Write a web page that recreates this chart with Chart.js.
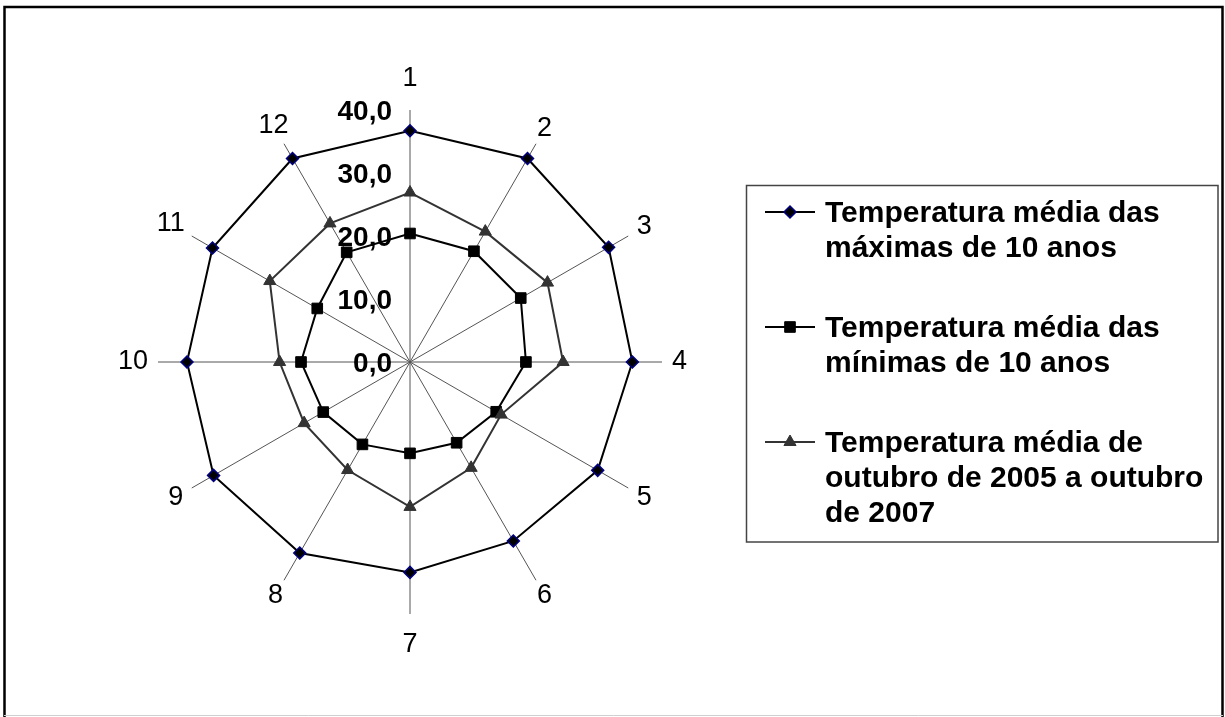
<!DOCTYPE html>
<html>
<head>
<meta charset="utf-8">
<script src="https://cdn.jsdelivr.net/npm/chart.js@4.4.0/dist/chart.umd.min.js"></script>
<style>
html,body{margin:0;padding:0;background:#fff;}
#wrap{position:relative;width:1225px;height:717px;}
</style>
</head>
<body>
<div id="wrap"><canvas id="c"></canvas></div>
<script>
// ---- data ----
const categories = ['1','2','3','4','5','6','7','8','9','10','11','12'];
const maxTemps = [36.7, 37.3, 36.4, 35.3, 34.4, 32.8, 33.4, 35.0, 36.0, 35.4, 36.2, 37.3];
const minTemps = [20.4, 20.3, 20.3, 18.4, 15.8, 14.8, 14.5, 15.1, 15.9, 17.3, 17.0, 20.1];
const avgTemps = [26.9, 23.9, 25.2, 24.3, 16.7, 19.4, 23.0, 19.8, 19.4, 20.7, 25.7, 25.4];
const seriesNames = [
  'Temperatura média das máximas de 10 anos',
  'Temperatura média das mínimas de 10 anos',
  'Temperatura média de outubro de 2005 a outubro de 2007'
];
const tickValues = [0, 10, 20, 30, 40];
const tickLabels = ['0,0', '10,0', '20,0', '30,0', '40,0'];

const FONT = '"Liberation Sans", Arial, sans-serif';

function wrapText(ctx, text, maxW) {
  const words = text.split(' ');
  const lines = [];
  let cur = '';
  words.forEach(w => {
    const t = cur ? cur + ' ' + w : w;
    if (ctx.measureText(t).width > maxW && cur) { lines.push(cur); cur = w; }
    else cur = t;
  });
  if (cur) lines.push(cur);
  return lines;
}

const decor = {
  id: 'decor',
  beforeDraw(chart) {
    const ctx = chart.ctx;
    ctx.save();
    ctx.fillStyle = '#fff';
    ctx.fillRect(0, 0, chart.width, chart.height);
    ctx.strokeStyle = '#000';
    ctx.lineWidth = 2.5;
    ctx.beginPath();
    ctx.moveTo(4.5, 717); ctx.lineTo(4.5, 7); ctx.lineTo(1222.5, 7); ctx.lineTo(1222.5, 717);
    ctx.stroke();
    ctx.strokeStyle = '#cfcfcf';
    ctx.lineWidth = 1;
    ctx.beginPath(); ctx.moveTo(4, 715.5); ctx.lineTo(1223, 715.5); ctx.stroke();
    ctx.restore();
  },
  beforeDatasetsDraw(chart) {
    const r = chart.scales.r;
    const ctx = chart.ctx;
    ctx.save();
    ctx.fillStyle = '#000';
    ctx.font = 'bold 28px ' + FONT;
    ctx.textAlign = 'right';
    ctx.textBaseline = 'middle';
    tickValues.forEach((v, i) => {
      const d = r.getDistanceFromCenterForValue(v);
      ctx.fillText(tickLabels[i], r.xCenter - 18, r.yCenter - d + 2);
    });
    ctx.font = '27px ' + FONT;
    ctx.textAlign = 'center';
    categories.forEach((lab, i) => {
      const a = r.getIndexAngle(i);
      const s = Math.abs(Math.sin(a)), c = Math.abs(Math.cos(a));
      const hw = ctx.measureText(lab).width / 2;
      const d = r.drawingArea + 10 + hw * s + (c > 0.99 ? 21 : 4 * c);
      const p = r.getPointPosition(i, d);
      ctx.fillText(lab, p.x, p.y);
    });
    ctx.restore();
  },
  afterDraw(chart) {
    const ctx = chart.ctx;
    ctx.save();
    ctx.strokeStyle = '#444';
    ctx.lineWidth = 1.5;
    ctx.strokeRect(746.5, 185.5, 471.5, 356.5);
    ctx.font = 'bold 30px ' + FONT;
    let base = 222;
    chart.data.datasets.forEach((d, i) => {
      const ly = base - 10;
      ctx.strokeStyle = d.borderColor;
      ctx.lineWidth = 2;
      ctx.beginPath(); ctx.moveTo(765, ly); ctx.lineTo(815, ly); ctx.stroke();
      ctx.fillStyle = d.pointBackgroundColor;
      ctx.strokeStyle = d.pointBorderColor;
      ctx.lineWidth = d.pointBorderWidth;
      Chart.helpers.drawPoint(ctx, {pointStyle: d.pointStyle, radius: d.pointRadius, borderWidth: d.pointBorderWidth, rotation: 0}, 790, ly);
      ctx.fillStyle = '#000';
      ctx.textAlign = 'left';
      ctx.textBaseline = 'alphabetic';
      const lines = wrapText(ctx, seriesNames[i], 388);
      lines.forEach((t, k) => ctx.fillText(t, 825, base + k * 35));
      base += 115;
    });
    ctx.restore();
  }
};

new Chart(document.getElementById('c'), {
  type: 'radar',
  data: {
    labels: categories,
    datasets: [
      { label: seriesNames[0], data: maxTemps, borderColor: '#000', borderWidth: 2, fill: false,
        pointStyle: 'rectRot', pointRadius: 6, pointBackgroundColor: '#000', pointBorderColor: '#000080', pointBorderWidth: 1.5, order: 3 },
      { label: seriesNames[1], data: minTemps, borderColor: '#000', borderWidth: 2, fill: false,
        pointStyle: 'rect', pointRadius: 7.5, pointBackgroundColor: '#000', pointBorderColor: '#000', pointBorderWidth: 1, order: 2 },
      { label: seriesNames[2], data: avgTemps, borderColor: '#333', borderWidth: 2, fill: false,
        pointStyle: 'triangle', pointRadius: 7, pointBackgroundColor: '#333', pointBorderColor: '#333', pointBorderWidth: 1, order: 1 }
    ]
  },
  options: {
    responsive: true,
    maintainAspectRatio: false,
    animation: false,
    layout: { padding: { left: 158, right: 563, top: 110, bottom: 103 } },
    elements: { line: { tension: 0 } },
    plugins: { legend: { display: false }, tooltip: { enabled: false } },
    scales: {
      r: {
        min: 0, max: 40, startAngle: 0,
        grid: { display: false },
        angleLines: { display: true, color: '#555', lineWidth: 1 },
        ticks: { display: false, stepSize: 10 },
        pointLabels: { display: false }
      }
    }
  },
  plugins: [decor]
});
</script>
</body>
</html>
